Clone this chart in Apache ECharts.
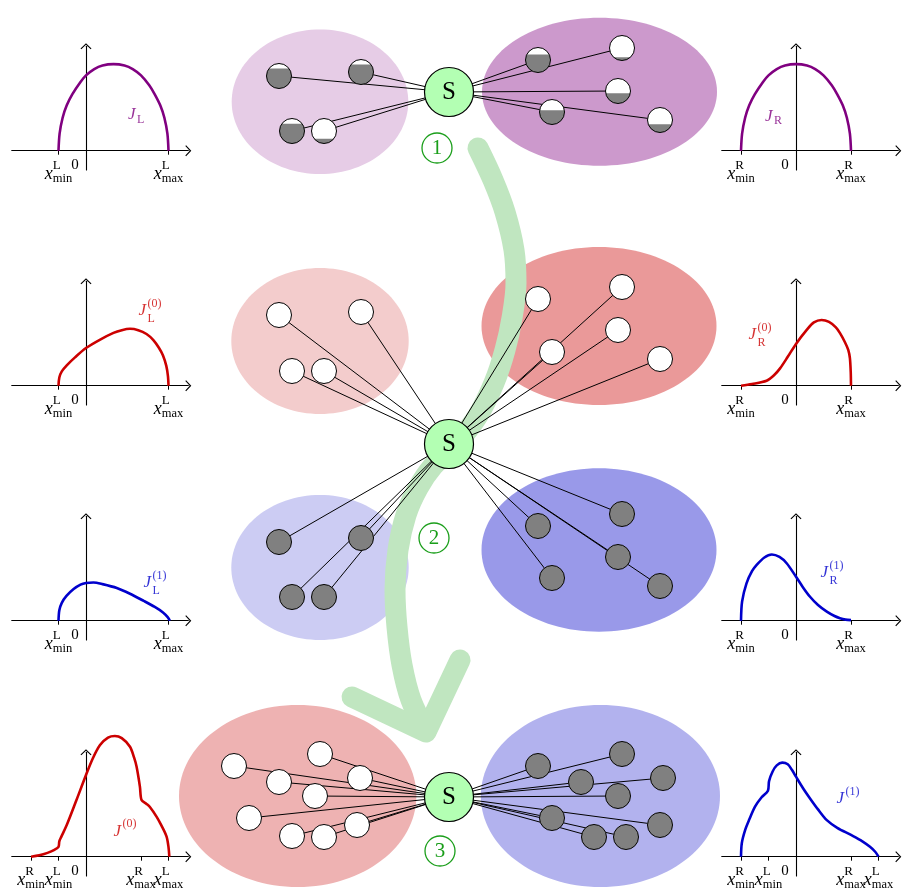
<!DOCTYPE html>
<html>
<head>
<meta charset="utf-8">
<script src="https://cdn.jsdelivr.net/npm/echarts@6/dist/echarts.min.js"></script>
<style>
  html, body { margin: 0; padding: 0; background: #fff; }
  #chart { width: 908px; height: 895px; }
</style>
</head>
<body>
<div id="chart"></div>
<script>
// ---------- diagram data (page units: x to the right, y downwards) ----------
var hubs = [[449, 92], [449, 444], [449, 797]];

// cx, cy, rx, ry of the shaded groups
var clusters = [
  [320, 101.7, 88.3, 72.3], [599.5, 91.7, 117.5, 74],
  [320, 341, 88.7, 73], [599, 326, 117.5, 79],
  [320, 567.5, 88.7, 72.5], [599, 550, 117.5, 81.7],
  [297.7, 796, 118.7, 91], [600.4, 796, 119.6, 91]
];

// x, y, grey share of the disc
var nodesStep1 = [
  [279, 76, 0.8], [361, 72, 0.8], [292, 131, 0.79], [324, 131, 0.19],
  [538, 60, 0.72], [622, 48, 0.13], [618, 91, 0.41], [552, 112, 0.57], [660, 120, 0.33]
];
var nodesStep2 = [
  [279, 315, 0], [361, 312, 0], [292, 371, 0], [324, 371, 0],
  [538, 299, 0], [622, 287, 0], [552, 352, 0], [618, 330, 0], [660, 359, 0],
  [279, 542, 1], [361, 538, 1], [292, 597, 1], [324, 597, 1],
  [538, 526, 1], [622, 514, 1], [552, 578, 1], [618, 557, 1], [660, 586, 1]
];
var nodesStep3 = [
  [234, 766, 0], [320, 754, 0], [279, 782, 0], [360, 778, 0], [315, 796, 0],
  [249, 818, 0], [357, 825, 0], [292, 836, 0], [324, 837, 0],
  [538, 766, 1], [622, 754, 1], [581, 782, 1], [663, 778, 1], [618, 796, 1],
  [552, 818, 1], [660, 825, 1], [594, 837, 1], [626, 837, 1]
];

var flowPath = [
  [478, 148], [493, 180], [505, 212], [514, 250], [516, 283], [512, 318], [505, 350],
  [494, 383], [477, 417], [455, 445], [433, 466], [418, 488], [406, 515], [398, 550],
  [395, 590], [397, 627], [402, 665], [411, 700], [426, 731]
];
var flowHead = [[352, 697], [426, 732], [460, 660]];

var stepMarks = [[437, 148, '1'], [434, 538, '2'], [440, 851, '3']];

// ---------- small plots (x in support units, y arbitrary) ----------
var curveL = [[-1, 0], [-0.96, 0.62], [-0.85, 1.2], [-0.7, 1.65], [-0.5, 2.05], [-0.2, 2.5], [0, 2.74],
  [0.3, 2.97], [0.6, 3.1], [1, 3.15], [1.4, 3.1], [1.7, 2.97], [2, 2.74], [2.3, 2.38], [2.5, 2.05],
  [2.7, 1.65], [2.85, 1.2], [2.96, 0.62], [3, 0]];
var curveR = [[-2, 0], [-1.96, 0.62], [-1.85, 1.2], [-1.7, 1.65], [-1.5, 2.05], [-1.2, 2.5], [-1, 2.74],
  [-0.7, 2.97], [-0.4, 3.1], [0, 3.15], [0.4, 3.1], [0.7, 2.97], [1, 2.74], [1.3, 2.38], [1.5, 2.05],
  [1.7, 1.65], [1.85, 1.2], [1.96, 0.62], [2, 0]];
var curveL0 = [[-1, 0], [-0.97, 0.3], [-0.88, 0.52], [-0.7, 0.74], [-0.4, 1.03], [0, 1.37], [0.5, 1.67],
  [1.0, 1.92], [1.3, 2.02], [1.6, 2.07], [1.9, 2.02], [2.2, 1.88], [2.45, 1.66], [2.65, 1.38],
  [2.8, 1.1], [2.92, 0.72], [2.98, 0.35], [3, 0]];
var curveR0 = [[-2, 0], [-1.6, 0.06], [-1.07, 0.18], [-0.8, 0.38], [-0.58, 0.63], [-0.3, 1.05], [0, 1.52],
  [0.39, 2.03], [0.65, 2.3], [0.93, 2.39], [1.2, 2.32], [1.45, 2.12], [1.6, 1.91], [1.78, 1.58],
  [1.9, 1.3], [1.96, 1.0], [1.99, 0.5], [2, 0]];
var curveL1 = [[-1, 0], [-0.97, 0.38], [-0.88, 0.65], [-0.71, 0.9], [-0.45, 1.15], [-0.2, 1.31], [0, 1.37],
  [0.27, 1.39], [0.6, 1.33], [1.12, 1.19], [1.6, 0.98], [2.1, 0.72], [2.5, 0.5], [2.8, 0.3],
  [2.97, 0.13], [3.05, 0]];
var curveR1 = [[-2, 0], [-1.96, 0.7], [-1.8, 1.36], [-1.6, 1.8], [-1.43, 2.03], [-1.15, 2.3], [-0.88, 2.41],
  [-0.6, 2.32], [-0.34, 2.09], [0, 1.6], [0.25, 1.22], [0.51, 0.87], [0.8, 0.57], [1.12, 0.33],
  [1.4, 0.17], [1.6, 0.09], [1.8, 0.04], [2.0, 0.02]];
var curveMix0 = [[-2, 0], [-1.7, 0.05], [-1.4, 0.14], [-1.15, 0.25], [-1, 0.36], [-0.97, 0.56], [-0.9, 0.72],
  [-0.7, 1.15], [-0.35, 2.05], [0, 2.97], [0.25, 3.58], [0.51, 4.06], [0.8, 4.33], [1.05, 4.39],
  [1.3, 4.31], [1.6, 4.0], [1.75, 3.6], [1.84, 3.27], [1.96, 2.55], [2.02, 2.06], [2.2, 1.92],
  [2.33, 1.8], [2.57, 1.45], [2.75, 1.12], [2.93, 0.73], [3.0, 0.35], [3.03, 0]];
var curveMix1 = [[-2, 0], [-1.97, 0.5], [-1.85, 0.97], [-1.7, 1.35], [-1.49, 1.82], [-1.25, 2.16],
  [-1.02, 2.4], [-0.98, 2.75], [-0.85, 3.1], [-0.7, 3.32], [-0.5, 3.42], [-0.3, 3.36], [-0.15, 3.16],
  [0, 2.91], [0.25, 2.5], [0.51, 2.12], [0.8, 1.72], [1.12, 1.33], [1.5, 1.05], [2.0, 0.79],
  [2.4, 0.57], [2.69, 0.36], [2.88, 0.18], [3.0, 0]];

var tickNames = [[-2, 'R', 'min'], [-1, 'L', 'min'], [2, 'R', 'max'], [3, 'L', 'max']];

// ---------- look ----------
var SERIF = 'Liberation Serif';
var GREEN = '#1a9e1a';
var PURPLE = '#800080', RED = '#cc0000', BLUE = '#0000cc';
var clusterColors = ['#e6cce6', '#cc99cc', '#f3cccc', '#ea9999', '#ccccf3', '#9999e9', '#eeb2b2', '#b2b2ee'];
var NODE_R = 12.5;
var ARROW = 'path://M5.5,0L11,5.2L10.2,6L5.5,1.6L0.8,6L0,5.2Z';
var U = 27.5, X_MIN = -2.7, X_MAX = 3.72, Y_MIN = -0.7, Y_MAX = 3.8;

var plots = [
  { curve: curveL,    ticks: [-1, 3],         ox: 86,  oy: 150.7, color: PURPLE, sub: 'L', sup: '',    at: [1.82, 1.30] },
  { curve: curveR,    ticks: [-2, 2],         ox: 796, oy: 150.7, color: PURPLE, sub: 'R', sup: '',    at: [-0.82, 1.26] },
  { curve: curveL0,   ticks: [-1, 3],         ox: 86,  oy: 385.7, color: RED,    sub: 'L', sup: '(0)', at: [2.33, 2.68] },
  { curve: curveR0,   ticks: [-2, 2],         ox: 796, oy: 385.7, color: RED,    sub: 'R', sup: '(0)', at: [-1.31, 1.81] },
  { curve: curveL1,   ticks: [-1, 3],         ox: 86,  oy: 620.7, color: BLUE,   sub: 'L', sup: '(1)', at: [2.51, 1.35] },
  { curve: curveR1,   ticks: [-2, 2],         ox: 796, oy: 620.7, color: BLUE,   sub: 'R', sup: '(1)', at: [1.31, 1.72] },
  { curve: curveMix0, ticks: [-2, -1, 2, 3],  ox: 86,  oy: 856.7, color: RED,    sub: '',  sup: '(0)', at: [1.42, 0.93] },
  { curve: curveMix1, ticks: [-2, -1, 2, 3],  ox: 796, oy: 856.7, color: BLUE,   sub: '',  sup: '(1)', at: [1.89, 2.12] }
];

function tickLabel(v) {
  if (v === 0) return '{z|0}';
  for (var i = 0; i < tickNames.length; i++) {
    if (tickNames[i][0] === v) return '{sp|}{up|' + tickNames[i][1] + '}\n{x|x}{dn|' + tickNames[i][2] + '}';
  }
  return '';
}
var tickRich = {
  sp: { width: 8, lineHeight: 1, align: 'left' },
  up: { fontFamily: SERIF, fontSize: 13, lineHeight: 1, align: 'left' },
  x: { fontFamily: SERIF, fontStyle: 'italic', fontSize: 18, width: 8, lineHeight: 16, align: 'left' },
  dn: { fontFamily: SERIF, fontSize: 12.5, height: 6, lineHeight: 6, verticalAlign: 'bottom', align: 'left' },
  z: { fontFamily: SERIF, fontSize: 15, lineHeight: 1, padding: [0, 22, 0, 0], align: 'left' }
};

function curveName(p) {
  if (p.sup && p.sub) return '{sp|}{sup|' + p.sup + '}\n{jm|J}\n{sp|}{lo|' + p.sub + '}';
  if (p.sup) return '{sp|}{sup|' + p.sup + '}\n{jt|J}';
  return '{js|J}{lob|' + p.sub + '}';
}
var nameRich = {
  sp: { width: 9, lineHeight: 1, align: 'left' },
  sup: { fontFamily: SERIF, fontSize: 12, lineHeight: 1, align: 'left' },
  jm: { fontFamily: SERIF, fontStyle: 'italic', fontSize: 17, width: 9, lineHeight: 13, align: 'left' },
  lo: { fontFamily: SERIF, fontSize: 12, lineHeight: 3, align: 'left' },
  jt: { fontFamily: SERIF, fontStyle: 'italic', fontSize: 17, width: 9, lineHeight: 14, align: 'left' },
  js: { fontFamily: SERIF, fontStyle: 'italic', fontSize: 17, width: 9, lineHeight: 16, align: 'left' },
  lob: { fontFamily: SERIF, fontSize: 12, height: 6, lineHeight: 6, verticalAlign: 'bottom', align: 'left' }
};

function edgesTo(nodes, hub) {
  return nodes.map(function (n) { return { coords: [[n[0], n[1]], hub] }; });
}
var allNodes = nodesStep1.concat(nodesStep2, nodesStep3);
var allEdges = edgesTo(nodesStep1, hubs[0]).concat(edgesTo(nodesStep2, hubs[1]), edgesTo(nodesStep3, hubs[2]));

var grids = [{ left: 0, top: 0, width: 908, height: 895 }];
var xAxes = [{ gridIndex: 0, type: 'value', min: 0, max: 908, show: false }];
var yAxes = [{ gridIndex: 0, type: 'value', min: 0, max: 895, inverse: true, show: false }];

var series = [
  {
    type: 'custom', xAxisIndex: 0, yAxisIndex: 0, silent: true, z: 1,
    data: clusters, encode: { x: 0, y: 1 },
    renderItem: function (params, api) {
      var c = api.coord([api.value(0), api.value(1)]);
      var s = api.size([api.value(2), api.value(3)]);
      return { type: 'ellipse', shape: { cx: c[0], cy: c[1], rx: s[0], ry: s[1] },
        style: { fill: clusterColors[params.dataIndex] } };
    }
  },
  {
    type: 'line', xAxisIndex: 0, yAxisIndex: 0, silent: true, z: 2, data: flowPath,
    symbol: 'none', smooth: 0.35,
    lineStyle: { color: '#c0e6c0', width: 21, cap: 'round', join: 'round' }
  },
  {
    type: 'line', xAxisIndex: 0, yAxisIndex: 0, silent: true, z: 2, data: flowHead,
    symbol: 'none',
    lineStyle: { color: '#c0e6c0', width: 21, cap: 'round', join: 'round' }
  },
  {
    type: 'lines', coordinateSystem: 'cartesian2d', xAxisIndex: 0, yAxisIndex: 0, silent: true, z: 3,
    data: allEdges, lineStyle: { color: '#000', width: 1, opacity: 1 }
  },
  {
    type: 'custom', xAxisIndex: 0, yAxisIndex: 0, silent: true, z: 4,
    data: allNodes, encode: { x: 0, y: 1 },
    renderItem: function (params, api) {
      var c = api.coord([api.value(0), api.value(1)]);
      var f = api.value(2);
      var r = NODE_R;
      var kids = [{ type: 'circle', shape: { cx: c[0], cy: c[1], r: r }, style: { fill: '#fff' } }];
      if (f > 0) {
        var yc = c[1] + r - 2 * r * f;
        var a = Math.asin(Math.max(-1, Math.min(1, (yc - c[1]) / r)));
        var pts = [];
        for (var i = 0; i <= 36; i++) {
          var t = a + (Math.PI - 2 * a) * i / 36;
          pts.push([c[0] + r * Math.cos(t), c[1] + r * Math.sin(t)]);
        }
        kids.push({ type: 'polygon', shape: { points: pts }, style: { fill: '#808080' } });
      }
      kids.push({ type: 'circle', shape: { cx: c[0], cy: c[1], r: r },
        style: { fill: 'none', stroke: '#000', lineWidth: 1 } });
      return { type: 'group', children: kids };
    }
  },
  {
    type: 'scatter', xAxisIndex: 0, yAxisIndex: 0, silent: true, z: 5, data: hubs,
    symbolSize: 49,
    itemStyle: { color: '#b3ffb3', borderColor: '#000', borderWidth: 1.2, opacity: 1 },
    label: { show: true, position: 'inside', formatter: 'S', fontFamily: SERIF, fontSize: 25, color: '#000' }
  },
  {
    type: 'scatter', xAxisIndex: 0, yAxisIndex: 0, silent: true, z: 5, data: stepMarks,
    symbolSize: 30,
    itemStyle: { color: 'rgba(255,255,255,0)', borderColor: GREEN, borderWidth: 1.3, opacity: 1 },
    label: { show: true, position: 'inside', formatter: function (p) { return p.value[2]; },
      fontFamily: SERIF, fontSize: 21, color: GREEN }
  }
];

plots.forEach(function (p, i) {
  var gi = i + 1;
  grids.push({ left: p.ox + X_MIN * U, top: p.oy - Y_MAX * U, width: (X_MAX - X_MIN) * U, height: (Y_MAX - Y_MIN) * U });
  xAxes.push({
    gridIndex: gi, type: 'value', min: X_MIN, max: X_MAX,
    splitLine: { show: false },
    axisLine: { show: true, onZero: true, symbol: ['none', ARROW], symbolSize: [11, 6],
      lineStyle: { color: '#000', width: 1.1 } },
    axisTick: { show: true, customValues: p.ticks, length: 4, lineStyle: { color: '#000', width: 1 } },
    axisLabel: { show: true, customValues: p.ticks.concat([0]), formatter: tickLabel, margin: -5,
      hideOverlap: false, showMinLabel: true, showMaxLabel: true,
      color: '#000', fontFamily: SERIF, rich: tickRich }
  });
  yAxes.push({
    gridIndex: gi, type: 'value', min: Y_MIN, max: Y_MAX,
    splitLine: { show: false }, axisTick: { show: false }, axisLabel: { show: false },
    axisLine: { show: true, onZero: true, symbol: ['none', ARROW], symbolSize: [11, 6],
      lineStyle: { color: '#000', width: 1.1 } }
  });
  series.push({
    type: 'line', xAxisIndex: gi, yAxisIndex: gi, silent: true, z: 6, data: p.curve,
    symbol: 'none', smooth: 0.3, clip: false,
    lineStyle: { color: p.color, width: 2.6 }
  });
  series.push({
    type: 'scatter', xAxisIndex: gi, yAxisIndex: gi, silent: true, z: 6, data: [p.at],
    symbolSize: 0,
    label: { show: true, position: 'inside', formatter: curveName(p), color: p.color,
      fontFamily: SERIF, rich: nameRich }
  });
});

var chart = echarts.init(document.getElementById('chart'));
chart.setOption({
  animation: false,
  backgroundColor: '#fff',
  grid: grids,
  xAxis: xAxes,
  yAxis: yAxes,
  series: series
});
</script>
</body>
</html>
